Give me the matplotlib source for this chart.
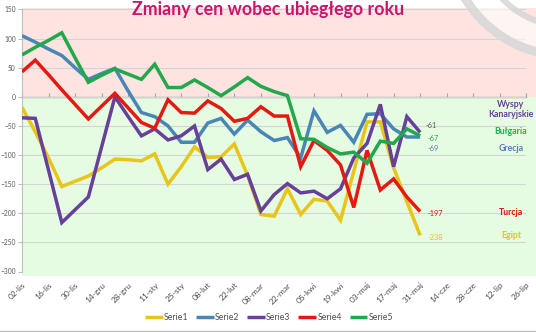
import numpy as np
import matplotlib
matplotlib.use("Agg")
import matplotlib.pyplot as plt
from matplotlib.patches import Rectangle, Wedge
from matplotlib.transforms import IdentityTransform

plt.rcParams['font.family'] = ['Lato', 'DejaVu Sans']

# ---------------- data ----------------
tick_labels = ["02-lis", "16-lis", "30-lis", "14-gru", "28-gru", "11-sty", "25-sty",
               "08-lut", "22-lut", "08-mar", "22-mar", "05-kwi", "19-kwi", "03-maj",
               "17-maj", "31-maj", "14-cze", "28-cze", "12-lip", "26-lip"]

serie1 = [-18, -60, -105, -154, -145, -136, -122, -107, -108, -110, -98, -150, -120, -86,
          -104, -103, -81, -135, -202, -205, -158, -202, -176, -179, -212, -128, -43, -43,
          -122, -180, -238]
serie2 = [105, 94, 82, 71, 50, 30, 40, 49, 10, -27, -34, -50, -78, -78, -45, -37, -64, -40,
          -60, -75, -70, -105, -24, -61, -49, -78, -30, -29, -55, -69, -69]
serie3 = [-36, -37, -126, -216, -194, -172, -86, 0, -34, -67, -55, -74, -67, -50, -125, -107,
          -142, -133, -196, -168, -149, -165, -162, -175, -158, -105, -80, -13, -120, -34, -61]
serie4 = [43, 63, 38, 12, -13, -38, -16, 6, -19, -44, -54, -5, -27, -28, -7, -20, -42, -37,
          -17, -33, -33, -120, -75, -92, -117, -190, -92, -160, -141, -172, -197]
serie5 = [72, 85, 97, 110, 67, 25, 37, 48, 39, 30, 56, 16, 16, 29, 16, 2, 17, 33, 18, 9, 2,
          -72, -73, -87, -98, -95, -114, -76, -80, -55, -67]

series_names = ["Serie1", "Serie2", "Serie3", "Serie4", "Serie5"]
series_vals = [serie1, serie2, serie3, serie4, serie5]
series_colors = ["#e8c51a", "#4a86b5", "#67409a", "#e41a12", "#22a84b"]

country_labels = ["Egipt", "Grecja", "Wyspy\nKanaryjskie", "Turcja", "Bułgaria"]
country_y = [-238, -88, -22, -198, -60]
country_colors = ["#e8c01a", "#5b7bb8", "#6a3d9a", "#e01010", "#22b04b"]

end_label_colors = ["#e8c01a", "#5b80b8", "#595959", "#e01010", "#22a84b"]
end_label_offsets = [(7, -2), (7, -11), (5, 7), (7, -2), (7, -3)]  # pixels

title = "Zmiany cen wobec ubiegłego roku"

# ---------------- figure ----------------
W, H = 536, 332
fig = plt.figure(figsize=(W / 100, H / 100), dpi=100)
fig.patch.set_facecolor("white")
ax = fig.add_axes([22 / W, 60.5 / H, 504.3 / W, 262 / H])
ax.set_facecolor("none")

ymin, ymax = -300, 150
xmax = 2 * (len(tick_labels) - 1)
ax.set_ylim(ymin, ymax)
ax.set_xlim(0, xmax)

# background zones
ax.add_patch(Rectangle((0, 0), xmax + 0.8, ymax + 2.5, facecolor="#fde4e1",
                       edgecolor="none", clip_on=False, zorder=0))
ax.add_patch(Rectangle((0, ymin - 8), xmax + 0.8, -(ymin - 8), facecolor="#e5fce2",
                       edgecolor="none", clip_on=False, zorder=0))

# decorative ring (top right)
ring_c = (566, H + 62)
fig.patches.append(Wedge(ring_c, 122, 180, 270, width=9, transform=IdentityTransform(),
                         facecolor="#d9d9d9", edgecolor="none", alpha=0.9, zorder=1))
fig.patches.append(Wedge(ring_c, 113, 180, 270, width=22, transform=IdentityTransform(),
                         facecolor="white", edgecolor="none", alpha=0.6, zorder=1))
fig.patches.append(Wedge(ring_c, 91, 180, 270, width=6, transform=IdentityTransform(),
                         facecolor="#d9d9d9", edgecolor="none", alpha=0.9, zorder=1))

# grid
ax.set_yticks(np.arange(ymin, ymax + 1, 50))
ax.yaxis.grid(True, color="#d4d4d4", linewidth=0.8, zorder=1)
ax.set_axisbelow(True)

weeks = np.arange(len(serie1))
for name, vals, col in zip(series_names, series_vals, series_colors):
    ax.plot(weeks, vals, color=col, linewidth=2.5, label=name, zorder=3,
            solid_joinstyle="miter", solid_capstyle="butt")

# end-of-series labels
for vals, col, off in zip(series_vals, end_label_colors, end_label_offsets):
    ax.annotate(f"{vals[-1]}", xy=(weeks[-1], vals[-1]), xytext=off,
                textcoords="offset pixels", fontsize=5.3, color=col,
                ha="left", va="center", zorder=4)

# country labels on the right
for lab, yv, col in zip(country_labels, country_y, country_colors):
    ax.text(36.85, yv, lab, color=col, fontsize=6.3, fontweight="bold",
            ha="center", va="center", linespacing=1.15, zorder=4)

# axes styling
for s in ["top", "right", "bottom"]:
    ax.spines[s].set_visible(False)
ax.spines["left"].set_color("#bfbfbf")
ax.spines["left"].set_linewidth(0.8)
ax.tick_params(axis="y", length=3, color="#bfbfbf", labelsize=4.8, labelcolor="#595959", pad=1.5)

tick_pos = np.arange(0, 2 * len(tick_labels), 2)
ax.set_xticks(tick_pos)
ax.set_xticklabels(tick_labels, rotation=45, ha="right", rotation_mode="anchor")
ax.tick_params(axis="x", length=0, labelsize=6, labelcolor="#4d4d4d", pad=7)

# zero axis line with inward ticks
sec = ax.secondary_xaxis(0, transform=ax.transData)
sec.set_xticks(tick_pos)
sec.tick_params(axis="x", direction="in", length=3, color="#a6a6a6", labelbottom=False)
sec.spines["bottom"].set_color("#a6a6a6")
sec.spines["bottom"].set_linewidth(1.0)

# title
fig.text(0.5, 1 - 1.0 / H, title, ha="center", va="top", fontsize=12.8,
         fontweight="bold", color="#c8166e")

# legend
fig.legend(*ax.get_legend_handles_labels(), loc="center", bbox_to_anchor=(0.502, 14 / H),
           ncol=5, frameon=False, fontsize=6.3, handlelength=2.0, handletextpad=0.15,
           columnspacing=0.9, labelcolor="#4d4d4d")

# bottom border
fig.add_artist(plt.Line2D([0, 1], [1.5 / H, 1.5 / H], color="#bfbfbf", linewidth=1))

fig.savefig("out.png", dpi=100)
